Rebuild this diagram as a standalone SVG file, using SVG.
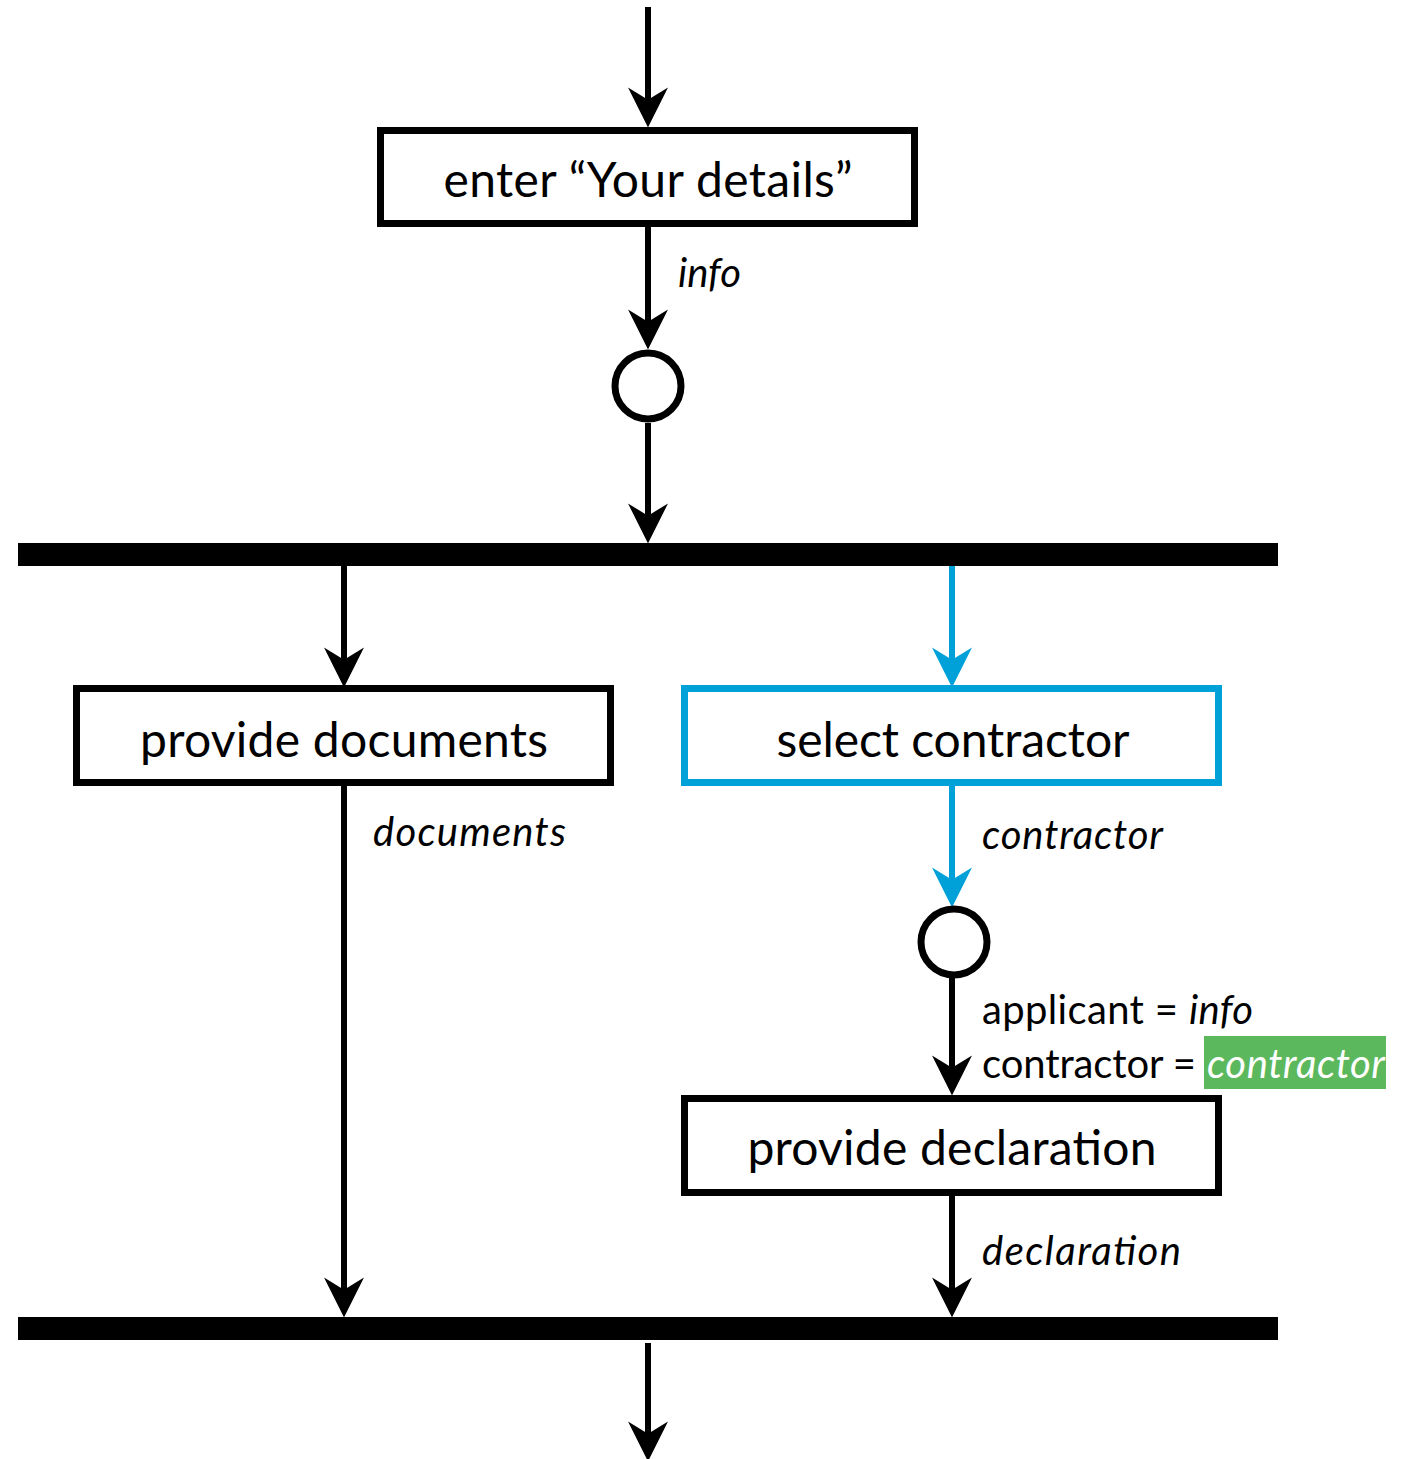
<svg xmlns="http://www.w3.org/2000/svg" width="1403" height="1459" viewBox="0 0 1403 1459">
  <defs>
    <style>
      .box { fill: #ffffff; stroke: #000000; stroke-width: 7; }
      .box.active { stroke: #00a0d8; }
      .merge { fill: #ffffff; stroke: #000000; stroke-width: 7; }
      .bar { fill: #000000; }
      .flow { fill: none; stroke: #000000; stroke-width: 6; }
      .flow.active { stroke: #00a0d8; }
      .title { font-family: "Lato", "Liberation Sans", sans-serif; font-size: 48px; fill: #000000; text-anchor: middle; }
      .label { font-family: "Lato", "Liberation Sans", sans-serif; font-size: 40px; fill: #000000; }
      .italic { font-style: italic; }
      .hl { fill: #5cb85c; }
      .label.on-hl { fill: #ffffff; }
    </style>
    <marker id="arrow" markerUnits="userSpaceOnUse" markerWidth="40" markerHeight="40" viewBox="0 0 36 36" refX="14" refY="18" orient="auto">
      <path d="M0,0 L36,18 L0,36 L11,18 Z" fill="#000000"/>
    </marker>
    <marker id="arrow-active" markerUnits="userSpaceOnUse" markerWidth="40" markerHeight="40" viewBox="0 0 36 36" refX="14" refY="18" orient="auto">
      <path d="M0,0 L36,18 L0,36 L11,18 Z" fill="#00a0d8"/>
    </marker>
  </defs>

  <rect width="1403" height="1459" fill="#ffffff"/>

  <!-- connectors and their flow labels -->
  <g id="connectors">
    <line class="flow" x1="648" y1="7" x2="648" y2="103" marker-end="url(#arrow)"/>
    <line class="flow" x1="648" y1="227" x2="648" y2="325" marker-end="url(#arrow)"/>
    <line class="flow" x1="648" y1="423" x2="648" y2="519" marker-end="url(#arrow)"/>
    <line class="flow" x1="344" y1="566" x2="344" y2="663" marker-end="url(#arrow)"/>
    <line class="flow active" x1="952" y1="566" x2="952" y2="663" marker-end="url(#arrow-active)"/>
    <line class="flow" x1="344" y1="786" x2="344" y2="1293" marker-end="url(#arrow)"/>
    <line class="flow active" x1="952" y1="786" x2="952" y2="883" marker-end="url(#arrow-active)"/>
    <line class="flow" x1="952" y1="978" x2="952" y2="1071" marker-end="url(#arrow)"/>
    <line class="flow" x1="952" y1="1195" x2="952" y2="1293" marker-end="url(#arrow)"/>
    <line class="flow" x1="648" y1="1343" x2="648" y2="1437" marker-end="url(#arrow)"/>

    <text class="label italic" x="678" y="287" textLength="63">info</text>
    <text class="label italic" x="373" y="846" textLength="193">documents</text>
    <text class="label italic" x="982" y="849" textLength="181">contractor</text>
    <text class="label" x="982" y="1024" textLength="271">applicant = <tspan font-style="italic">info</tspan></text>
    <rect class="hl" x="1204" y="1036" width="182" height="53"/>
    <text class="label" x="982" y="1078" textLength="214">contractor =</text>
    <text class="label italic on-hl" x="1207" y="1078" textLength="178">contractor</text>
    <text class="label italic" x="982" y="1265" textLength="199">declaration</text>
  </g>

  <!-- activity nodes -->
  <g id="enter-details">
    <rect class="box" x="380.5" y="130.5" width="534" height="93"/>
    <text class="title" x="648" y="197" textLength="409">enter “Your details”</text>
  </g>

  <g id="merge-info">
    <circle class="merge" cx="648" cy="386" r="33"/>
  </g>

  <g id="fork">
    <rect class="bar" x="18" y="543" width="1260" height="23"/>
  </g>

  <g id="provide-documents">
    <rect class="box" x="76.5" y="688.5" width="534" height="94"/>
    <text class="title" x="344" y="757" textLength="408">provide documents</text>
  </g>

  <g id="select-contractor">
    <rect class="box active" x="684.5" y="688.5" width="534" height="94"/>
    <text class="title" x="953" y="757" textLength="353">select contractor</text>
  </g>

  <g id="merge-contractor">
    <circle class="merge" cx="954" cy="942" r="33"/>
  </g>

  <g id="provide-declaration">
    <rect class="box" x="684.5" y="1098.5" width="534" height="94"/>
    <text class="title" x="952" y="1165" textLength="409">provide declaration</text>
  </g>

  <g id="join">
    <rect class="bar" x="18" y="1317" width="1260" height="23"/>
  </g>
</svg>
